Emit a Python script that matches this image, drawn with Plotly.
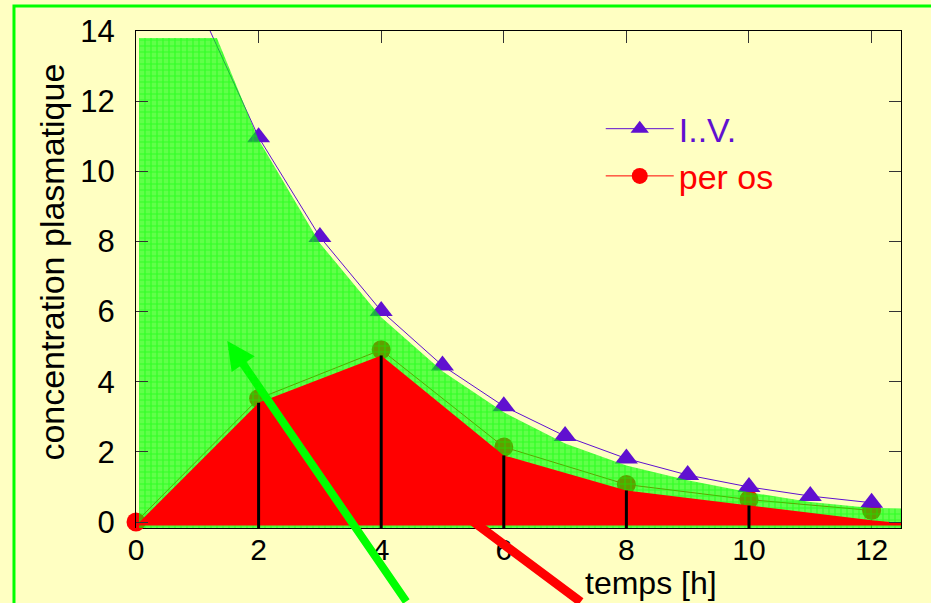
import plotly.graph_objects as go

# Plasma concentration after an intravenous dose (I.V.) and an oral dose (per os)
iv_t = [1, 2, 3, 4, 5, 6, 7, 8, 9, 10, 11, 12]
iv_c = [14.8, 10.97, 8.13, 6.02, 4.46, 3.30, 2.45, 1.81, 1.34, 1.00, 0.74, 0.55]

os_t = [0, 2, 4, 6, 8, 10, 12]
os_c = [0.0, 3.52, 4.91, 2.14, 1.07, 0.64, 0.33]

# Shaded areas under the curves (AUC)
iv_area_t = [0.05, 1.32, 2, 3, 4, 5, 6, 7, 8, 9, 10, 11, 12, 12.6, 12.6, 0.05]
iv_area_c = [13.8, 13.8, 10.9, 7.95, 5.84, 4.3, 3.13, 2.24, 1.61, 1.19, 0.85, 0.57, 0.40, 0.38, -0.17, -0.17]

os_area_t = [0, 2, 4, 6, 8, 10, 12, 12.6, 12.6, 0]
os_area_c = [-0.1, 3.4, 4.75, 1.9, 0.9, 0.47, 0.05, -0.05, -0.1, -0.1]

# Sampling times marked with vertical strokes
sample_t = [2, 4, 6, 8, 10]

x_ticks = [0, 2, 4, 6, 8, 10, 12]
y_ticks = [0, 2, 4, 6, 8, 10, 12, 14]

FONT = "Liberation Sans, Arial, Helvetica, sans-serif"
BG = "#FFFFC2"
PURPLE = "#6010D0"
RED = "#FF0000"
GREEN = "#00FF00"

area_top = dict(zip(os_area_t, os_area_c))
stroke_x, stroke_y = [], []
for t in sample_t:
    stroke_x += [t, t, None]
    stroke_y += [-0.17, area_top[t], None]

fig = go.Figure()

fig.add_trace(go.Scatter(
    x=os_t, y=os_c, mode="lines+markers",
    name=f"<span style='color:{RED}'>per os</span>",
    line=dict(color=RED, width=1),
    marker=dict(symbol="circle", size=19, color=RED),
    cliponaxis=False, legendrank=2, hoverinfo="skip",
))

fig.add_trace(go.Scatter(
    x=iv_t, y=iv_c, mode="lines+markers",
    name=f"<span style='color:{PURPLE}'>I..V.</span>",
    line=dict(color=PURPLE, width=1),
    marker=dict(symbol="triangle-up", size=20, color=PURPLE),
    legendrank=1, hoverinfo="skip",
))

fig.add_trace(go.Scatter(
    x=iv_area_t, y=iv_area_c, mode="lines", fill="toself",
    line=dict(width=0), fillcolor="rgba(0,0,0,0)",
    fillpattern=dict(shape="+", size=6, solidity=0.35,
                     fgcolor="rgba(0,255,0,1)", bgcolor="rgba(0,255,0,0.62)"),
    showlegend=False, hoverinfo="skip",
))

fig.add_trace(go.Scatter(
    x=os_area_t, y=os_area_c, mode="lines", fill="toself",
    line=dict(width=0), fillcolor=RED,
    showlegend=False, hoverinfo="skip",
))

fig.add_trace(go.Scatter(
    x=stroke_x, y=stroke_y, mode="lines",
    line=dict(color="black", width=3),
    showlegend=False, hoverinfo="skip",
))

# Pointer arrows toward the two areas
fig.add_annotation(x=1.49, y=5.16, xref="x", yref="y", text="",
                   showarrow=True, ax=180, ay=280, arrowhead=2,
                   arrowwidth=8, arrowsize=0.7, arrowcolor=GREEN, standoff=0)
fig.add_annotation(x=4.8, y=0.93, xref="x", yref="y", text="",
                   showarrow=True, ax=152, ay=133, arrowhead=2,
                   arrowwidth=9, arrowsize=0.6, arrowcolor=RED, standoff=0)

# Axis titles
fig.add_annotation(x=0.673, y=-0.1105, xref="paper", yref="paper",
                   text="temps [h]", showarrow=False, borderpad=0,
                   xanchor="center", yanchor="middle", font=dict(size=32))
fig.add_annotation(x=-0.1098, y=0.534, xref="paper", yref="paper",
                   text="concentration plasmatique", showarrow=False, textangle=-90,
                   xanchor="center", yanchor="middle", font=dict(size=34))

# Outer frame
fig.add_shape(type="rect", xref="paper", yref="paper",
              x0=-0.1595, x1=1.2, y0=-0.3, y1=1.0503,
              line=dict(color=GREEN, width=3), layer="below")

fig.update_layout(
    width=931, height=603,
    margin=dict(l=136, r=30, t=31, b=75),
    paper_bgcolor=BG, plot_bgcolor=BG,
    font=dict(family=FONT, color="black"),
    showlegend=True,
    legend=dict(x=0.6075, y=0.861, xanchor="left", yanchor="top",
                bgcolor="rgba(0,0,0,0)", font=dict(size=34, family=FONT),
                itemwidth=68, traceorder="normal"),
    xaxis=dict(range=[0, 12.48], tickvals=x_ticks, ticks="inside", ticklen=12,
               tickcolor="#333", showline=True, linecolor="black", linewidth=1,
               mirror="ticks", showgrid=False, zeroline=False, layer="below traces",
               tickfont=dict(size=30), ticklabelstandoff=-5),
    yaxis=dict(range=[-0.17, 14], tickvals=y_ticks, ticks="inside", ticklen=12,
               tickcolor="#333", showline=True, linecolor="black", linewidth=1,
               mirror="ticks", showgrid=False, zeroline=False,
               tickfont=dict(size=31), ticklabelstandoff=14),
)

fig.write_html("out.html")
